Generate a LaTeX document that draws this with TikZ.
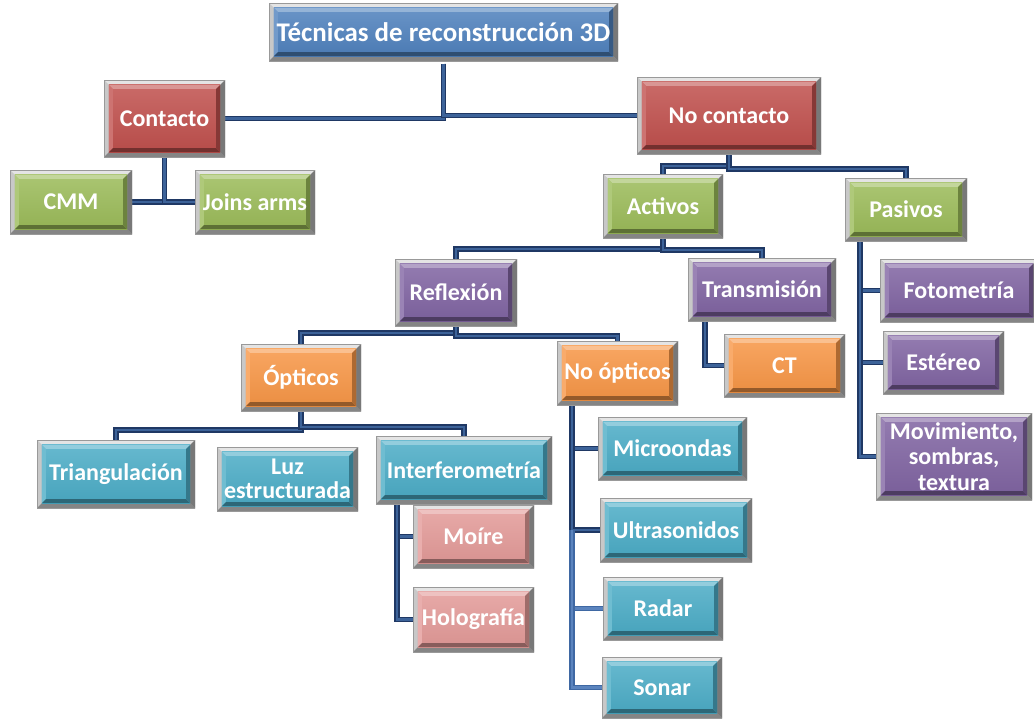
\documentclass[tikz,border=0pt]{standalone}
\usepackage{fontspec}
\setmainfont{Carlito}
\definecolor{boxblue}{HTML}{4F81BD}
\definecolor{boxred}{HTML}{C0504D}
\definecolor{boxgreen}{HTML}{9BBB59}
\definecolor{boxpurple}{HTML}{8064A2}
\definecolor{boxorange}{HTML}{F79646}
\definecolor{boxcyan}{HTML}{4BACC6}
\definecolor{boxpink}{HTML}{E39A98}
\definecolor{framelight}{HTML}{E4E4E4}
\definecolor{framemid}{HTML}{C8C8C8}
\definecolor{framedark}{HTML}{858585}
\definecolor{conndark}{HTML}{1F3864}
\definecolor{connmid}{HTML}{3D6399}
\definecolor{connlightedge}{HTML}{3F68A3}
\definecolor{connlight}{HTML}{5B84BE}
\pgfdeclarelayer{background}
\pgfsetlayers{background,main}
\def\fw{3.6pt}
\def\bw{3pt}
\newcommand\bevelpic{%
  \coordinate (oNW) at (path picture bounding box.north west);
  \coordinate (oNE) at (path picture bounding box.north east);
  \coordinate (oSE) at (path picture bounding box.south east);
  \coordinate (oSW) at (path picture bounding box.south west);
  \coordinate (iNW) at ([shift={(\fw,-\fw)}]oNW);
  \coordinate (iNE) at ([shift={(-\fw,-\fw)}]oNE);
  \coordinate (iSE) at ([shift={(-\fw,\fw)}]oSE);
  \coordinate (iSW) at ([shift={(\fw,\fw)}]oSW);
  \coordinate (cNW) at ([shift={(\bw,-\bw)}]iNW);
  \coordinate (cNE) at ([shift={(-\bw,-\bw)}]iNE);
  \coordinate (cSE) at ([shift={(-\bw,\bw)}]iSE);
  \coordinate (cSW) at ([shift={(\bw,\bw)}]iSW);
  \fill[framelight] (oNW)--(oNE)--(iNE)--(iNW)--cycle;
  \fill[framemid] (oNW)--(iNW)--(iSW)--(oSW)--cycle;
  \fill[framedark] (oSW)--(iSW)--(iSE)--(oSE)--cycle;
  \fill[framedark!90!black] (oNE)--(oSE)--(iSE)--(iNE)--cycle;
  \shade[top color=\bcol!85!white, bottom color=\bcol!95!black] (iNW) rectangle (iSE);
  \fill[\bcol!60!white] (iNW)--(iNE)--(cNE)--(cNW)--cycle;
  \fill[\bcol!80!white] (iNW)--(cNW)--(cSW)--(iSW)--cycle;
  \fill[\bcol!60!black] (iSW)--(cSW)--(cSE)--(iSE)--cycle;
  \fill[\bcol!70!black] (iNE)--(iSE)--(cSE)--(cNE)--cycle;
  \draw[line width=0.5pt, gray!80] (oNW) rectangle (oSE);
}
\tikzset{
  bcol/.code={\def\bcol{#1}},
  box/.style={bcol=#1, inner sep=0pt, outer sep=0pt, fill=framemid,
    font=\fontsize{18}{20}\selectfont\bfseries, text=white, align=center,
    path picture={\bevelpic}},
  titlefont/.style={font=\fontsize{20.2}{22}\selectfont\bfseries},
  conn/.style={draw=conndark, double=connmid, double distance=1.6pt,
    line width=1.2pt},
  connl/.style={draw=connlightedge, double=connlight, double distance=1.6pt,
    line width=1.2pt},
}
% \bx[extra options]{name}{colour}{x1}{y1}{x2}{y2}{text}
\newcommand\bx[8][]{%
  \pgfmathsetmacro\cx{(#4+#6)/2}\pgfmathsetmacro\cy{(#5+#7)/2}%
  \pgfmathsetmacro\ww{(#6-#4)*0.75}\pgfmathsetmacro\hh{(#7-#5)*0.75}%
  \node[box=#3, minimum width=\ww pt, minimum height=\hh pt, #1] (#2) at (\cx,\cy) {#8};}
\begin{document}
\begin{tikzpicture}[x=0.75pt,y=-0.75pt]
\useasboundingbox (0,0) rectangle (1034,719);
% boxes
\bx[titlefont]{top}{boxblue}{269}{3}{618}{61}{Técnicas de reconstrucción 3D}
\bx{contacto}{boxred}{104}{80}{225}{157}{Contacto}
\bx{nocont}{boxred}{637}{77}{821}{154}{No contacto}
\bx{cmm}{boxgreen}{10}{170}{132}{234}{CMM}
\bx{joins}{boxgreen}{195}{170}{315}{234}{Joins arms}
\bx{activos}{boxgreen}{603}{174}{723}{238}{Activos}
\bx{pasivos}{boxgreen}{845}{178}{967}{241}{Pasivos}
\bx{reflex}{boxpurple}{395}{259}{517}{326}{Reflexión}
\bx{transm}{boxpurple}{688}{258}{836}{321}{Transmisión}
\bx{fotom}{boxpurple}{880}{259}{1038}{322}{Fotometría}
\bx{estereo}{boxpurple}{883}{331}{1004}{394}{Estéreo}
\bx{movim}{boxpurple}{876}{413}{1032}{500}{Movimiento,\\[-1pt]sombras,\\[-1pt]textura}
\bx{opticos}{boxorange}{241}{344}{361}{411}{Ópticos}
\bx{noopt}{boxorange}{557}{341}{678}{405}{No ópticos}
\bx{ct}{boxorange}{724}{334}{845}{397}{CT}
\bx{triang}{boxcyan}{37}{440}{195}{508}{Triangulación}
\bx{luz}{boxcyan}{217}{447}{358}{511}{Luz\\[-2pt]estructurada}
\bx{interf}{boxcyan}{376}{436}{552}{504}{Interferometría}
\bx{micro}{boxcyan}{598}{417}{747}{480}{Microondas}
\bx{moire}{boxpink}{413}{505}{534}{568}{Moíre}
\bx{holo}{boxpink}{413}{587}{534}{652}{Holografía}
\bx{ultra}{boxcyan}{600}{498}{752}{562}{Ultrasonidos}
\bx{radar}{boxcyan}{603}{577}{723}{640}{Radar}
\bx{sonar}{boxcyan}{602}{657}{722}{718}{Sonar}
% helper coordinates
\coordinate (ifx) at ([xshift=15.75pt]interf.south west);
\coordinate (nox) at ([xshift=11.25pt]noopt.south west);
\coordinate (trx) at ([xshift=12.75pt]transm.south west);
\coordinate (pax) at ([xshift=11.25pt]pasivos.south west);
\begin{pgfonlayer}{background}
\draw[conn] ([yshift=-2pt]top.south) |- (contacto.east);
\draw[conn] ([yshift=-2pt]top.south) |- (nocont.west);
\draw[conn] (contacto.south) |- (cmm.east);
\draw[conn] (contacto.south) |- (joins.west);
\draw[conn] (nocont.south) -- ++(0,12) -| (activos.north);
\draw[conn] (nocont.south) -- ++(0,15) -| (pasivos.north);
\draw[conn] (activos.south) -- ++(0,11) -| (reflex.north);
\draw[conn] (activos.south) -- ++(0,12) -| (transm.north);
\draw[conn] (reflex.south) -- ++(0,7) -| (opticos.north);
\draw[conn] (reflex.south) -- ++(0,10) -| (noopt.north);
\draw[conn] (opticos.south) -- ++(0,19) -| (triang.north);
\draw[conn] (opticos.south) -- ++(0,16) -| (interf.north);
\draw[conn] (ifx) |- (moire.west);
\draw[conn] (ifx) |- (holo.west);
\draw[conn] (nox) |- (micro.west);
\draw[conn] (nox) |- (ultra.west);
\draw[connl] (nox |- ultra.west) |- (radar.west);
\draw[connl] (nox |- ultra.west) |- (sonar.west);
\draw[conn] (trx) |- (ct.west);
\draw[conn] (pax) |- (fotom.west);
\draw[conn] (pax) |- (estereo.west);
\draw[conn] (pax) |- (movim.west);
\end{pgfonlayer}
\end{tikzpicture}
\end{document}
